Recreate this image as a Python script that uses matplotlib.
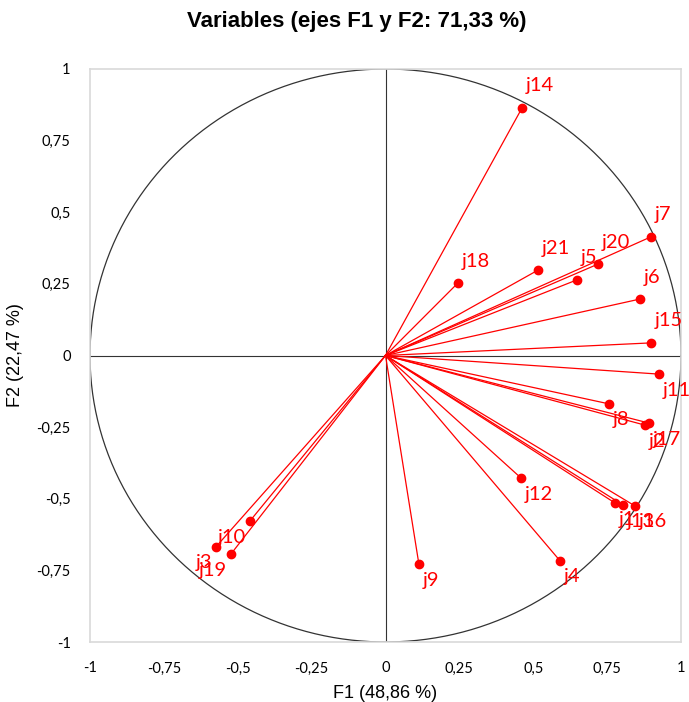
import matplotlib
matplotlib.use("Agg")
import matplotlib.pyplot as plt
import numpy as np

# Coordenadas de las variables (F1, F2)
names = ["j1", "j2", "j3", "j4", "j5", "j6", "j7", "j8", "j9", "j10", "j11",
         "j12", "j13", "j14", "j15", "j16", "j17", "j18", "j19", "j20", "j21"]
f1 = [0.777, 0.878, -0.574, 0.591, 0.648, 0.861, 0.898, 0.757, 0.113, -0.459, 0.926,
      0.459, 0.804, 0.462, 0.898, 0.844, 0.892, 0.245, -0.523, 0.719, 0.516]
f2 = [-0.515, -0.243, -0.668, -0.717, 0.264, 0.197, 0.414, -0.169, -0.728, -0.578, -0.065,
      -0.428, -0.522, 0.864, 0.044, -0.525, -0.236, 0.253, -0.693, 0.319, 0.298]

ticks = [-1, -0.75, -0.5, -0.25, 0, 0.25, 0.5, 0.75, 1]
tick_labels = ["-1", "-0,75", "-0,5", "-0,25", "0", "0,25", "0,5", "0,75", "1"]

fig = plt.figure(figsize=(6.89, 7.02), dpi=100)
ax = fig.add_axes([90/689, 1-642/702, (681-90)/689, (642-69)/702])

# circulo de correlaciones
t = np.linspace(0, 2*np.pi, 400)
ax.plot(np.cos(t), np.sin(t), color="#333333", lw=0.9, zorder=1)
ax.axhline(0, color="#333333", lw=0.8, zorder=1)
ax.axvline(0, color="#333333", lw=0.8, zorder=1)

for n, x, y in zip(names, f1, f2):
    ax.plot([0, x], [0, y], color="red", lw=0.9, zorder=2)
    ax.plot(x, y, "o", color="red", ms=6, zorder=3)
    dx = 4 if x >= 0 else -4
    dy = 22 if y >= 0 else -16
    ax.annotate(n, (x, y), xytext=(dx, dy), textcoords="offset pixels",
                ha="left" if x >= 0 else "right", va="center",
                color="red", fontsize=14.5, family="Lato")

ax.set_xlim(-1, 1)
ax.set_ylim(-1, 1)
ax.set_xticks(ticks)
ax.set_xticklabels(tick_labels)
ax.set_yticks(ticks)
ax.set_yticklabels(tick_labels)
ax.tick_params(length=0, labelsize=10.5, pad=14)
for lab in ax.get_xticklabels() + ax.get_yticklabels():
    lab.set_family("Lato")
for s in ax.spines.values():
    s.set_color("#d9d9d9")
    s.set_linewidth(1.2)

ax.set_xlabel("F1 (48,86 %)", fontsize=13, family="Liberation Sans", labelpad=7)
ax.set_ylabel("F2 (22,47 %)", fontsize=13, family="Liberation Sans", labelpad=9)

fig.text(357/689, 1-22/702, "Variables (ejes F1 y F2: 71,33 %)", ha="center", va="center",
         fontsize=16, fontweight="bold", family=["Liberation Sans Narrow", "Liberation Sans"])

fig.savefig("out.png", dpi=100)
